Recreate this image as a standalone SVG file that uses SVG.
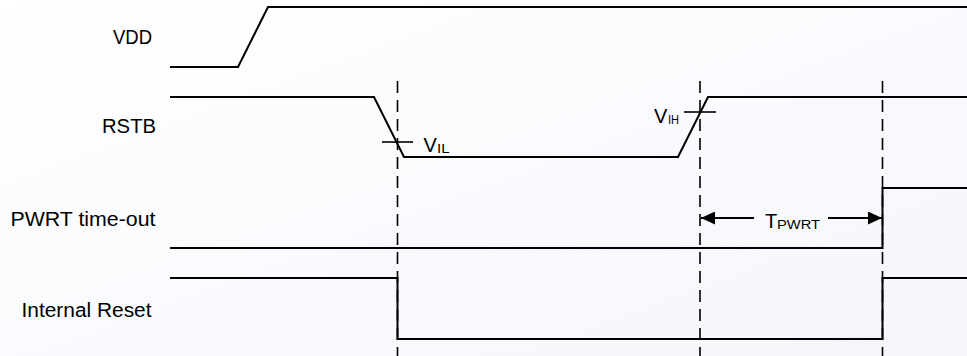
<svg xmlns="http://www.w3.org/2000/svg" width="967" height="356" viewBox="0 0 967 356">
<defs>
<style>
.sig{fill:none;stroke:#000;stroke-width:2;stroke-linejoin:miter}
.dash{fill:none;stroke:#000;stroke-width:1.6;stroke-dasharray:12 7}
.tick{fill:none;stroke:#000;stroke-width:1.6}
.dim{fill:none;stroke:#000;stroke-width:2}
.lbl{font-family:"Liberation Sans",Arial,sans-serif;font-size:20px;fill:#000}
.sub{font-family:"Liberation Sans",Arial,sans-serif;font-size:12px;fill:#000}
</style>
<linearGradient id="bg" x1="0" y1="0" x2="1" y2="1">
<stop offset="0" stop-color="#ffffff"/>
<stop offset="1" stop-color="#f4f6fb"/>
</linearGradient>
<marker id="arr" viewBox="0 0 14 13" refX="14" refY="6.5" markerWidth="14" markerHeight="13" markerUnits="userSpaceOnUse" orient="auto">
<path d="M0,0 L14,6.5 L0,13 Z" fill="#000"/>
</marker>
</defs>
<rect x="0" y="0" width="967" height="356" fill="url(#bg)"/>

<g id="labels">
<text class="lbl" x="113" y="44" textLength="39" lengthAdjust="spacingAndGlyphs">VDD</text>
<text class="lbl" x="102" y="133" textLength="54" lengthAdjust="spacingAndGlyphs">RSTB</text>
<text class="lbl" x="10.5" y="226" textLength="145" lengthAdjust="spacingAndGlyphs">PWRT time-out</text>
<text class="lbl" x="21.5" y="317" textLength="130" lengthAdjust="spacingAndGlyphs">Internal Reset</text>
</g>

<g id="connectors">
<g id="sig-vdd"><path class="sig" d="M170,67 H238 L268,7 H967"/></g>
<g id="sig-rstb"><path class="sig" d="M170,97 H374 L404,157 H678 L708,97 H967"/></g>
<g id="sig-pwrt"><path class="sig" d="M170,248 H882.5 V188 H967"/></g>
<g id="sig-reset"><path class="sig" d="M170,278 H397.5 V339 H882.5 V278 H967"/></g>
<g id="guides">
<path class="dash" d="M397.5,81 V356"/>
<path class="dash" d="M700,81 V356"/>
<path class="dash" d="M882.5,81 V356"/>
</g>
<g id="ticks">
<path class="tick" d="M382,142 H413"/>
<path class="tick" d="M684,112 H716"/>
</g>
<g id="tpwrt-dim">
<path class="dim" d="M754,218 H701" marker-end="url(#arr)"/>
<path class="dim" d="M828,218 H882" marker-end="url(#arr)"/>
</g>
</g>

<g id="vil">
<text class="lbl" x="423.5" y="152">V</text>
<text class="sub" x="437" y="153" textLength="12.5" lengthAdjust="spacingAndGlyphs">IL</text>
</g>
<g id="vih">
<text class="lbl" x="654" y="123">V</text>
<text class="sub" x="668" y="124" textLength="11" lengthAdjust="spacingAndGlyphs">IH</text>
</g>
<g id="tpwrt">
<text class="lbl" x="765" y="228">T</text>
<text class="sub" x="777" y="229" textLength="43" lengthAdjust="spacingAndGlyphs">PWRT</text>
</g>
</svg>
